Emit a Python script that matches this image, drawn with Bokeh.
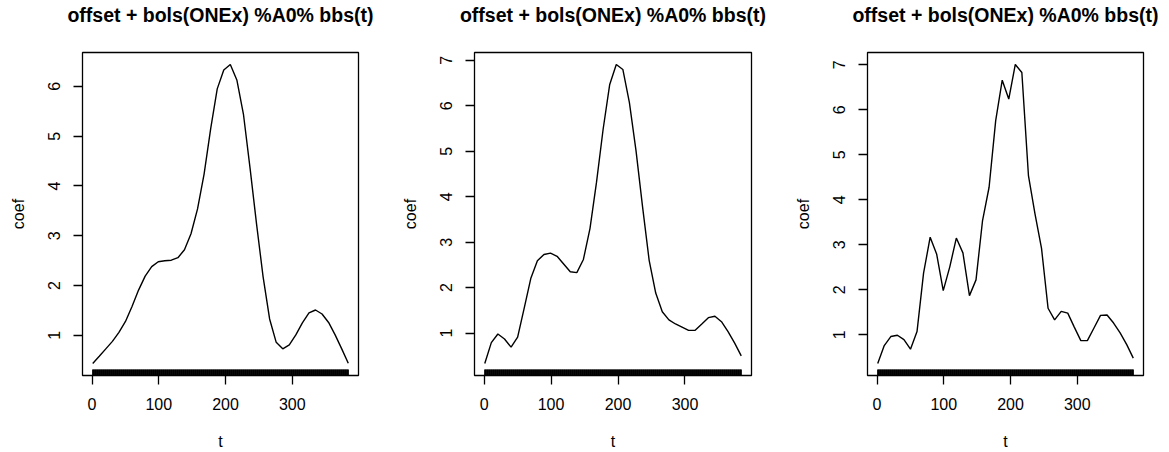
from bokeh.plotting import figure
from bokeh.layouts import row
from bokeh.models import Range1d, FixedTicker, LinearAxis
from bokeh.embed import file_html
from bokeh.resources import INLINE

# evaluation grid of t
t_grid = [1, 10.8, 20.6, 30.5, 40.3, 50.1, 59.9, 69.7, 79.6, 89.4, 99.2, 109, 118.8,
          128.7, 138.5, 148.3, 158.1, 167.9, 177.8, 187.6, 197.4, 207.2, 217, 226.9,
          236.7, 246.5, 256.3, 266.1, 276, 285.8, 295.6, 305.4, 315.2, 325.1, 334.9,
          344.7, 354.5, 364.3, 374.2, 384]

coef_1 = [0.435, 0.58, 0.73, 0.88, 1.06, 1.28, 1.58, 1.91, 2.19, 2.38, 2.48, 2.50, 2.51,
          2.56, 2.72, 3.04, 3.54, 4.24, 5.15, 5.95, 6.33, 6.44, 6.13, 5.44, 4.37, 3.24,
          2.18, 1.33, 0.86, 0.73, 0.81, 1.01, 1.25, 1.45, 1.51, 1.43, 1.26, 1.01, 0.73, 0.44]

coef_2 = [0.33, 0.79, 0.98, 0.87, 0.69, 0.91, 1.55, 2.20, 2.59, 2.73, 2.76, 2.69, 2.52,
          2.35, 2.33, 2.62, 3.30, 4.32, 5.49, 6.47, 6.91, 6.80, 6.07, 5.01, 3.77, 2.60,
          1.88, 1.47, 1.29, 1.20, 1.13, 1.06, 1.06, 1.20, 1.34, 1.37, 1.25, 1.03, 0.78, 0.50]

coef_3 = [0.36, 0.76, 0.96, 0.99, 0.89, 0.68, 1.07, 2.37, 3.17, 2.79, 1.98, 2.51, 3.15,
          2.82, 1.87, 2.22, 3.54, 4.28, 5.76, 6.66, 6.24, 7.01, 6.83, 4.54, 3.69, 2.92,
          1.59, 1.33, 1.52, 1.48, 1.17, 0.87, 0.87, 1.15, 1.43, 1.44, 1.26, 1.04, 0.78, 0.48]

rug_t = list(range(1, 385))

title_text = "offset + bols(ONEx) %A0% bbs(t)"
x_ticks = [0, 100, 200, 300]
y_ticks_1 = [1, 2, 3, 4, 5, 6]
y_ticks_23 = [1, 2, 3, 4, 5, 6, 7]

FONT = "Liberation Sans"
FRAME_H = 326
TOP, BOTTOM = 52, 74


def panel(values, yticks, left, frame_w, right):
    xmin, xmax = min(rug_t), max(rug_t)
    dx = 0.04 * (xmax - xmin)
    ymin, ymax = min(values), max(values)
    dy = 0.04 * (ymax - ymin)
    p = figure(width=left + frame_w + right, height=TOP + FRAME_H + BOTTOM,
               output_backend="svg", toolbar_location=None,
               x_range=Range1d(xmin - dx, xmax + dx),
               y_range=Range1d(ymin - dy, ymax + dy),
               min_border_left=left, min_border_right=right,
               min_border_top=TOP, min_border_bottom=BOTTOM)
    p.grid.visible = False
    p.outline_line_color = "black"
    p.outline_line_width = 1.3
    p.background_fill_color = "white"
    p.border_fill_color = "white"

    bx = p.below[0]
    ly = p.left[0]
    for ax in (bx, ly):
        ax.axis_line_color = None
        ax.minor_tick_line_color = None
        ax.major_tick_line_color = "black"
        ax.major_tick_line_width = 1.3
        ax.major_tick_out = 9
        ax.major_tick_in = 0
        ax.major_label_text_font = FONT
        ax.major_label_text_font_size = "16px"
        ax.major_label_text_color = "black"
        ax.major_label_text_line_height = 1.0
        ax.axis_label_text_font = FONT
        ax.axis_label_text_font_size = "16px"
        ax.axis_label_text_font_style = "normal"
        ax.axis_label_text_color = "black"
        ax.axis_label_text_line_height = 1.0
    bx.ticker = FixedTicker(ticks=x_ticks)
    ly.ticker = FixedTicker(ticks=yticks)
    bx.axis_label = "t"
    ly.axis_label = "coef"
    ly.major_label_orientation = "vertical"
    bx.major_label_standoff = 13
    ly.major_label_standoff = 13
    bx.axis_label_standoff = 20
    ly.axis_label_standoff = 19

    # main title drawn as the label of a tick-less axis above the frame
    top_axis = LinearAxis(ticker=FixedTicker(ticks=[]), axis_label=title_text)
    top_axis.axis_line_color = None
    top_axis.major_tick_line_color = None
    top_axis.minor_tick_line_color = None
    top_axis.major_tick_out = 0
    top_axis.major_tick_in = 0
    top_axis.major_label_text_font_size = "0px"
    top_axis.major_label_standoff = 0
    top_axis.axis_label_text_font = FONT
    top_axis.axis_label_text_font_size = "19.5px"
    top_axis.axis_label_text_font_style = "bold"
    top_axis.axis_label_text_color = "black"
    top_axis.axis_label_text_line_height = 1.0
    top_axis.axis_label_standoff = 27
    p.add_layout(top_axis, "above")

    y0 = ymin - dy
    rug_h = (ymax + dy - y0) * 6.0 / FRAME_H
    p.segment(x0=rug_t, y0=[y0] * len(rug_t), x1=rug_t, y1=[y0 + rug_h] * len(rug_t),
              line_color="black", line_width=1.2)
    p.line(t_grid, values, line_color="black", line_width=1.4)
    return p


p1 = panel(coef_1, y_ticks_1, 82, 276, 32)
p2 = panel(coef_2, y_ticks_23, 84, 277, 29)
p3 = panel(coef_3, y_ticks_23, 87, 276, 26)

layout = row(p1, p2, p3)
open("out.html", "w").write(file_html(layout, INLINE))
